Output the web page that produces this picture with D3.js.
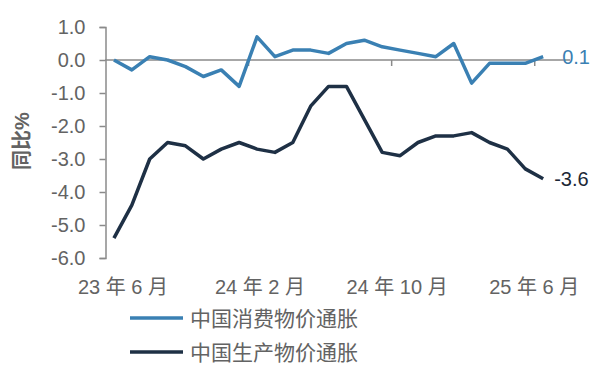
<!DOCTYPE html>
<html>
<head>
<meta charset="utf-8">
<script src="https://cdn.jsdelivr.net/npm/d3@7"></script>
<style>
  body { margin: 0; background: #fff; }
  svg { display: block; font-family: "Liberation Sans", Arial, "Noto Sans CJK SC", sans-serif; }
</style>
</head>
<body>
<svg width="608" height="374"></svg>
<script>
// 月份（23年6月 ~ 25年6月）
const months = ["23/6","23/7","23/8","23/9","23/10","23/11","23/12","24/1","24/2","24/3","24/4","24/5",
  "24/6","24/7","24/8","24/9","24/10","24/11","24/12","25/1","25/2","25/3","25/4","25/5","25/6"];
const cpi = [0.0,-0.3,0.1,0.0,-0.2,-0.5,-0.3,-0.8,0.7,0.1,0.3,0.3,0.2,0.5,0.6,0.4,0.3,0.2,0.1,0.5,-0.7,-0.1,-0.1,-0.1,0.1];
const ppi = [-5.4,-4.4,-3.0,-2.5,-2.6,-3.0,-2.7,-2.5,-2.7,-2.8,-2.5,-1.4,-0.8,-0.8,-1.8,-2.8,-2.9,-2.5,-2.3,-2.3,-2.2,-2.5,-2.7,-3.3,-3.6];
const xLabels = ["23 年 6 月", "24 年 2 月", "24 年 10 月", "25 年 6 月"];
const yTicks = [1, 0, -1, -2, -3, -4, -5, -6];
const seriesNames = ["中国消费物价通胀", "中国生产物价通胀"];

const blue = "#3a80b3";
const navy = "#1e3045";
const grey = "#636363";

// 用普通连字符作负号
const fmt = d => d.toFixed(1);

const svg = d3.select("svg");

// 类目轴多留一个空月
const x = d3.scaleLinear().domain([-0.5, months.length + 0.5]).range([105, 570]);
const y = d3.scaleLinear().domain([-6, 1]).range([258, 27]);

// y轴
const gy = svg.append("g").attr("transform", "translate(105.5,0)")
  .call(d3.axisLeft(y).tickValues(yTicks).tickSize(6).tickPadding(14).tickFormat(fmt));
gy.select(".domain").attr("stroke", "#8a8a8a").attr("stroke-width", 1.5);
gy.selectAll("line").attr("stroke", "#8a8a8a").attr("stroke-width", 1.5);
gy.selectAll("text").attr("fill", grey).style("font-size", "20px");

// 零线 + 刻度（每8个月，位于类目之间）
const gx = svg.append("g").attr("transform", `translate(0,${y(0)})`)
  .call(d3.axisBottom(x).tickValues([7.5, 15.5, 23.5]).tickSize(6).tickFormat(""));
gx.select(".domain").attr("d", `M${x(-0.5)},0H${x(months.length + 0.5)}`)
  .attr("stroke", "#8a8a8a").attr("stroke-width", 1.5);
gx.selectAll("line").attr("stroke", "#8a8a8a").attr("stroke-width", 1.5);

// x轴标签：Excel 均匀分布
const xl = d3.scalePoint().domain(xLabels).range([x(0) + 9, x(months.length - 1) - 9]);
svg.append("g").selectAll("text").data(xLabels).join("text")
  .attr("x", d => xl(d)).attr("y", 294)
  .attr("text-anchor", "middle").attr("fill", grey)
  .style("font-size", "20px").text(d => d);

// y轴标题
svg.append("text")
  .attr("transform", "translate(29,141) rotate(-90)")
  .attr("text-anchor", "middle").attr("fill", grey)
  .style("font-size", "20px").style("font-weight", "bold")
  .text("同比%");

const line = d3.line().x((d, i) => x(i)).y(d => y(d));

svg.append("path").datum(ppi).attr("d", line)
  .attr("fill", "none").attr("stroke", navy).attr("stroke-width", 3.5).attr("stroke-linejoin", "round");
svg.append("path").datum(cpi).attr("d", line)
  .attr("fill", "none").attr("stroke", blue).attr("stroke-width", 3.5).attr("stroke-linejoin", "round");

// 末值标注
const last = months.length - 1;
svg.append("text").attr("x", x(last) + 19).attr("y", y(cpi[last]) + 7)
  .attr("fill", blue).style("font-size", "20px").text(fmt(cpi[last]));
svg.append("text").attr("x", x(last) + 11).attr("y", y(ppi[last]) + 7)
  .attr("fill", "#1c2836").style("font-size", "20px").text(fmt(ppi[last]));

// 图例
const legend = svg.append("g").selectAll("g").data(seriesNames).join("g")
  .attr("transform", (d, i) => `translate(130,${318 + i * 34})`);
legend.append("line").attr("x1", 0).attr("x2", 53)
  .attr("stroke", (d, i) => i === 0 ? blue : navy).attr("stroke-width", 3.5);
legend.append("text").attr("x", 60).attr("y", 7.5)
  .attr("fill", grey).style("font-size", "21px").text(d => d);
</script>
</body>
</html>
